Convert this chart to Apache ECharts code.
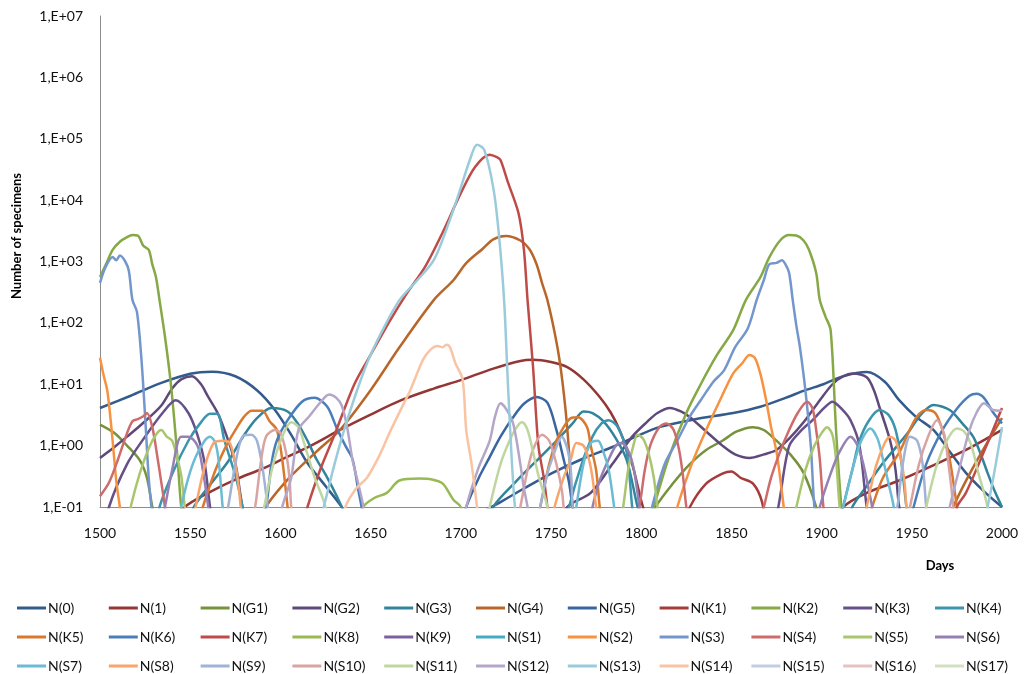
<!DOCTYPE html>
<html><head><meta charset="utf-8">
<script src="https://cdn.jsdelivr.net/npm/echarts@6/dist/echarts.min.js"></script>
<style>html,body{margin:0;padding:0;background:#fff}#c{width:1029px;height:674px}</style>
</head><body><div id="c"></div>
<script>
// ---- data: [day, number of specimens] ----
const dayTicks = [1500, 1550, 1600, 1650, 1700, 1750, 1800, 1850, 1900, 1950, 2000];
const seriesNames = ['N(0)','N(1)','N(G1)','N(G2)','N(G3)','N(G4)','N(G5)','N(K1)','N(K2)','N(K3)','N(K4)',
  'N(K5)','N(K6)','N(K7)','N(K8)','N(K9)','N(S1)','N(S2)','N(S3)','N(S4)','N(S5)','N(S6)',
  'N(S7)','N(S8)','N(S9)','N(S10)','N(S11)','N(S12)','N(S13)','N(S14)','N(S15)','N(S16)','N(S17)'];

const N0 = [[1500,4.1],[1517,6.5],[1534,10.5],[1550,14.8],[1562,16],[1575,13.5],[1587,8],[1597,3.8],[1606,1.5],[1615,0.52],[1625,0.22],[1634,0.1],[1645,0.03],[1700,0.03],[1712,0.08],[1722,0.12],[1735,0.2],[1750,0.35],[1767,0.6],[1784,0.95],[1797,1.4],[1810,2.0],[1830,2.7],[1851,3.4],[1866,4.3],[1880,6],[1891,8],[1901,10],[1912,13.5],[1925,15.8],[1935,11],[1943,5.5],[1952,3],[1962,1.8],[1971,0.8],[1980,0.36],[1990,0.18],[2000,0.1]];
const N1 = [[1530,0.03],[1547,0.1],[1560,0.17],[1575,0.28],[1590,0.42],[1600,0.58],[1617,1.0],[1633,1.8],[1650,3.2],[1667,5.5],[1685,8.5],[1700,11.7],[1718,18],[1733,24],[1740,25],[1750,23],[1759,19],[1768,12],[1777,6.2],[1783,3.5],[1788,1.8],[1795,0.5],[1801,0.1],[1808,0.03],[1900,0.03],[1912,0.1],[1925,0.17],[1943,0.27],[1960,0.45],[1980,0.85],[2000,1.8]];
const G1 = [[1500,2.2],[1508,1.6],[1515,1.0],[1522,0.58],[1526,0.3],[1529,0.1],[1533,0.03],[1800,0.03],[1808,0.1],[1818,0.25],[1827,0.5],[1836,0.85],[1845,1.2],[1853,1.7],[1862,2.0],[1868,1.8],[1875,1.2],[1883,0.7],[1890,0.36],[1897,0.1],[1901,0.03]];
const G2 = [[1500,0.63],[1508,0.95],[1515,1.4],[1525,2.5],[1534,4.5],[1540,8.5],[1545,12],[1551,13.5],[1556,10],[1560,6.2],[1565,3.5],[1569,1.8],[1575,0.52],[1579,0.1],[1584,0.03],[1750,0.03],[1759,0.1],[1772,0.17],[1784,0.5],[1795,1.4],[1803,2.4],[1809,3.4],[1816,4.1],[1822,3.6],[1827,2.9],[1836,1.7],[1845,1.0],[1852,0.72],[1860,0.63],[1868,0.72],[1875,0.85],[1882,1.3],[1890,2.4],[1898,5],[1906,10],[1912,13.5],[1917,15],[1925,13],[1929,8],[1932,4.3],[1938,1.2],[1941,0.4],[1943,0.1],[1947,0.03]];
const G3 = [[1545,0.03],[1552,0.1],[1562,0.25],[1571,0.55],[1580,1.5],[1587,2.8],[1595,4.1],[1604,3.6],[1610,2.2],[1615,1.2],[1620,0.6],[1626,0.3],[1634,0.1],[1640,0.03],[1712,0.03],[1718,0.1],[1730,0.25],[1744,0.65],[1753,1.2],[1762,2.3],[1768,3.6],[1773,3.4],[1779,2.5],[1786,1.3],[1792,0.58],[1798,0.1],[1803,0.03],[1910,0.03],[1917,0.1],[1925,0.22],[1934,0.52],[1942,1.0],[1949,1.8],[1955,3.2],[1962,4.6],[1971,3.8],[1978,2.3],[1984,1.4],[1988,0.75],[1992,0.36],[1996,0.18],[2000,0.1]];
const G4 = [[1585,0.03],[1592,0.1],[1605,0.3],[1620,0.8],[1633,1.8],[1650,8],[1666,40],[1685,235],[1696,500],[1703,940],[1712,1600],[1718,2300],[1725,2600],[1733,2200],[1738,1600],[1742,900],[1745,450],[1748,235],[1752,70],[1755,22],[1758,4],[1760,0.8],[1762,0.1],[1766,0.02],[1965,0.02],[1973,0.1],[1985,0.5],[2000,2.8]];
const G5 = [[1698,0.03],[1703,0.1],[1710,0.3],[1716,0.65],[1722,1.4],[1729,2.9],[1735,4.8],[1742,6.2],[1748,5],[1753,1.8],[1757,0.6],[1760,0.25],[1762,0.1],[1766,0.03]];
const K1 = [[1820,0.03],[1827,0.1],[1836,0.24],[1845,0.35],[1850,0.38],[1855,0.3],[1862,0.24],[1867,0.12],[1870,0.03]];
const K2 = [[1500,560],[1504,1000],[1507,1550],[1511,2100],[1515,2500],[1518,2700],[1521,2650],[1524,1800],[1527,1550],[1529,900],[1531,560],[1533,235],[1536,60],[1539,12],[1541,3],[1543,0.6],[1545,0.1],[1548,0.02],[1800,0.02],[1807,0.1],[1815,0.6],[1825,3.4],[1833,10],[1842,30],[1851,76],[1858,235],[1866,550],[1871,1170],[1877,2200],[1882,2700],[1886,2650],[1890,2200],[1893,1550],[1897,650],[1899,235],[1902,130],[1905,76],[1908,1.8],[1911,0.1],[1914,0.02]];
const K3 = [[1500,0.02],[1505,0.1],[1515,0.5],[1525,1.4],[1535,3.5],[1542,5.5],[1549,3.4],[1554,1.5],[1558,0.52],[1561,0.1],[1565,0.02],[1870,0.02],[1876,0.1],[1882,0.98],[1889,1.8],[1895,2.6],[1901,4],[1906,5.2],[1911,4],[1916,2.6],[1921,1.0],[1925,0.1],[1929,0.02]];
const K4 = [[1528,0.02],[1533,0.1],[1541,0.4],[1549,1.2],[1555,2.2],[1561,3.3],[1565,3.3],[1569,1.2],[1575,0.33],[1579,0.1],[1583,0.02],[1755,0.02],[1760,0.1],[1767,0.5],[1773,1.4],[1778,2.3],[1782,2.6],[1787,2.0],[1792,0.77],[1795,0.1],[1798,0.02],[1908,0.02],[1912,0.1],[1917,0.4],[1921,1.2],[1926,2.5],[1932,3.8],[1937,3.2],[1941,1.8],[1944,0.6],[1947,0.1],[1950,0.02]];
const K5 = [[1550,0.02],[1557,0.1],[1564,0.4],[1570,1.0],[1576,2],[1580,3],[1584,3.7],[1590,3.7],[1594,2.5],[1598,1.8],[1601,0.6],[1604,0.1],[1607,0.02],[1738,0.02],[1744,0.1],[1749,0.5],[1753,1.2],[1757,2],[1761,2.8],[1765,2.9],[1770,2.0],[1772,1.0],[1775,0.4],[1777,0.1],[1780,0.02],[1920,0.02],[1928,0.1],[1934,0.3],[1943,0.77],[1948,1.6],[1953,3.0],[1958,3.8],[1963,3.4],[1967,1.8],[1971,0.6],[1975,0.1],[1978,0.02]];
const K6 = [[1585,0.02],[1592,0.1],[1595,0.5],[1598,1.2],[1604,2.6],[1612,5.2],[1619,6],[1626,4.3],[1631,2],[1636,1.0],[1640,0.6],[1643,0.2],[1645,0.1],[1648,0.02],[1945,0.02],[1951,0.1],[1958,0.5],[1967,1.8],[1975,4],[1982,6.5],[1986,7],[1990,6],[1995,3.5],[2000,2.3]];
const K7 = [[1608,0.02],[1615,0.1],[1622,0.4],[1630,1.5],[1641,10],[1650,30],[1660,100],[1670,300],[1680,800],[1690,3000],[1700,13000],[1708,35000],[1716,55000],[1720,50000],[1722,45000],[1726,20000],[1732,6100],[1735,1550],[1737,235],[1740,20],[1743,1],[1746,0.3],[1748,0.1],[1751,0.02],[1970,0.02],[1975,0.1],[1980,0.17],[1990,0.8],[2000,4.1]];
const K8 = [[1640,0.02],[1646,0.1],[1652,0.14],[1659,0.17],[1666,0.27],[1677,0.29],[1684,0.28],[1690,0.24],[1696,0.13],[1700,0.1],[1704,0.02]];
const K9 = [];
const S1 = [];
const S2 = [[1500,27],[1502,14],[1504,8],[1505.5,3.4],[1507,1.2],[1509,0.27],[1511,0.1],[1514,0.02],[1814,0.02],[1820,0.1],[1828,0.5],[1836,1.8],[1843,5],[1851,15],[1856,22],[1860,30],[1863,27],[1866,15],[1869,6],[1872,2],[1875,0.8],[1877,0.3],[1879,0.1],[1882,0.02]];
const S3 = [[1500,450],[1503,800],[1507,1180],[1509,1050],[1511,1250],[1514,1000],[1516,700],[1518,235],[1520.5,150],[1523,25],[1525,3],[1527,0.3],[1528.5,0.1],[1531,0.02],[1800,0.02],[1806,0.1],[1813,0.5],[1820,1.2],[1827,3],[1833,5.5],[1840,11],[1846,17],[1852,40],[1859,80],[1864,235],[1868,500],[1871,900],[1875,950],[1878,1050],[1880,900],[1882,650],[1884,235],[1886,90],[1888,40],[1891,8],[1894,1],[1896,0.1],[1899,0.02]];
const S4 = [[1500,0.15],[1505,0.25],[1510,0.6],[1515,1.6],[1518,2.5],[1521,2.7],[1524,3],[1526,3.4],[1529,2],[1532,0.6],[1534,0.25],[1536,0.1],[1539,0.02],[1794,0.02],[1799,0.1],[1802,0.4],[1805,1],[1810,2],[1814,2.3],[1818,1.8],[1821,0.85],[1823,0.35],[1825,0.1],[1828,0.02],[1862,0.02],[1868,0.1],[1872,0.3],[1877,0.8],[1882,1.8],[1887,3.5],[1892,5.2],[1895,4],[1897,1.8],[1899,0.6],[1901,0.1],[1904,0.02]];
const S5 = [[1512,0.02],[1517,0.1],[1522,0.35],[1527,0.9],[1531,1.5],[1534,1.8],[1537,1.4],[1540,1.2],[1543,0.6],[1545,0.33],[1547,0.1],[1550,0.02],[1786,0.02],[1790,0.1],[1793,0.45],[1796,1.1],[1798,1.5],[1801,1.3],[1804,0.77],[1807,0.3],[1809,0.1],[1812,0.02],[1880,0.02],[1886,0.1],[1891,0.4],[1896,1],[1900,1.6],[1903,2.0],[1906,1.5],[1908,0.6],[1910,0.1],[1913,0.02]];
const S6 = [[1531,0.02],[1536,0.1],[1540,0.4],[1545,1.4],[1549,1.4],[1554,1],[1557,0.4],[1560,0.1],[1563,0.02],[1768,0.02],[1773,0.1],[1777,0.27],[1782,0.6],[1786,1.0],[1789,1.1],[1793,0.8],[1796,0.4],[1799,0.1],[1802,0.02],[1894,0.02],[1899,0.1],[1905,0.35],[1910,0.8],[1916,1.4],[1920,1.0],[1923,0.52],[1926,0.2],[1928,0.1],[1931,0.02]];
const S7 = [[1540,0.02],[1545,0.1],[1549,0.3],[1553,0.65],[1558,1.2],[1561,1.4],[1564,1.1],[1566,0.5],[1568,0.1],[1571,0.02],[1760,0.02],[1764,0.1],[1768,0.5],[1772,1.1],[1776,1.2],[1779,0.8],[1782,0.4],[1785,0.1],[1788,0.02],[1906,0.02],[1912,0.1],[1917,0.4],[1922,1.2],[1927,1.9],[1931,1.3],[1934,0.6],[1937,0.25],[1940,0.1],[1943,0.02]];
const S8 = [[1548,0.02],[1553,0.1],[1558,0.45],[1563,1.1],[1568,1.2],[1572,1.1],[1575,0.5],[1577,0.2],[1578,0.1],[1581,0.02],[1747,0.02],[1752,0.1],[1757,0.3],[1761,0.6],[1764,1.1],[1768,1.0],[1771,0.6],[1773,0.3],[1775,0.1],[1778,0.02],[1920,0.02],[1925,0.1],[1930,0.45],[1935,1.1],[1938,1.4],[1941,1.2],[1944,0.6],[1946,0.25],[1947,0.1],[1950,0.02]];
const S9 = [[1566,0.02],[1571,0.1],[1575,0.5],[1579,1.4],[1584,1.5],[1587,1.2],[1590,0.45],[1593,0.1],[1596,0.02],[1740,0.02],[1744,0.1],[1748,0.35],[1751,0.65],[1756,1.4],[1759,0.9],[1761,0.4],[1762,0.1],[1765,0.02],[1937,0.02],[1942,0.1],[1945,0.5],[1949,1.4],[1953,1.2],[1956,0.5],[1958,0.1],[1961,0.02]];
const S10 = [[1581,0.02],[1586,0.1],[1589,0.5],[1592,1.4],[1597,1.8],[1600,1.6],[1603,0.8],[1605,0.3],[1606,0.1],[1609,0.02],[1728,0.02],[1733,0.1],[1737,0.4],[1740,0.85],[1745,1.5],[1749,1.2],[1753,0.5],[1756,0.19],[1757,0.1],[1760,0.02],[1944,0.02],[1949,0.1],[1954,0.5],[1959,1.4],[1964,2.6],[1968,1.5],[1970,0.6],[1972,0.2],[1973,0.1],[1976,0.02]];
const S11 = [[1586,0.02],[1591,0.1],[1596,0.5],[1601,1.4],[1606,2.4],[1610,2.0],[1614,0.9],[1619,0.3],[1625,0.1],[1628,0.02],[1711,0.02],[1716,0.1],[1722,0.5],[1727,1.2],[1731,2.0],[1734,2.4],[1737,1.8],[1740,0.8],[1743,0.33],[1748,0.1],[1751,0.02],[1953,0.02],[1958,0.1],[1964,0.5],[1970,1.3],[1975,1.9],[1979,1.7],[1983,1.0],[1987,0.35],[1992,0.1],[1995,0.02]];
const S12 = [[1596,0.02],[1601,0.1],[1606,0.3],[1610,1.8],[1616,3],[1622,5],[1627,6.8],[1631,6],[1634,4.5],[1637,2],[1640,0.58],[1643,0.25],[1646,0.1],[1649,0.02],[1698,0.02],[1703,0.1],[1710,0.45],[1716,1.2],[1719,3],[1722,4.9],[1725,4],[1729,2.3],[1733,0.5],[1735,0.2],[1737,0.1],[1740,0.02],[1966,0.02],[1971,0.1],[1977,0.5],[1982,1.8],[1986,3.5],[1990,4.9],[1995,3.8],[2000,3.7]];
const S13 = [[1617,0.02],[1624,0.1],[1630,0.5],[1637,2.6],[1648,22],[1657,80],[1666,235],[1676,500],[1685,1050],[1693,4000],[1700,16000],[1705,45000],[1709,80000],[1713,66000],[1718,16000],[1721,3000],[1724,235],[1726,12],[1728,0.8],[1730,0.1],[1733,0.02],[1985,0.02],[1992,0.1],[2000,2]];
const S14 = [[1630,0.02],[1636,0.1],[1642,0.2],[1648,0.3],[1655,0.7],[1660,1.5],[1666,3.5],[1672,8],[1679,25],[1683,36],[1687,42],[1690,40],[1692,44],[1694,40],[1697,22],[1701,12],[1703,1.8],[1706,0.5],[1709,0.1],[1712,0.02]];
const S15 = [];
const S16 = [];
const S17 = [];

const seriesData = [N0,N1,G1,G2,G3,G4,G5,K1,K2,K3,K4,K5,K6,K7,K8,K9,S1,S2,S3,S4,S5,S6,S7,S8,S9,S10,S11,S12,S13,S14,S15,S16,S17];
const colors = ['#335B8C','#943634','#76923C','#5F497A','#31849B','#B8662A','#3A66A0','#A53C3A','#86A845','#66508A','#3B95AD',
  '#D9782E','#4A7EBB','#BE4B48','#98B954','#7D60A0','#46AAC5','#F69240','#7396CC','#CD6C6A','#A9C66F','#9580B4',
  '#6BBBD3','#F9A46A','#A0B2D6','#D9A3A2','#C0D6A0','#B4A6C8','#9ACBDB','#F9C4A3','#C2CCE2','#E4C2C1','#D3E1C3'];

const chart = echarts.init(document.getElementById('c'), null, {renderer: 'canvas'});
const font = 'Lato, "Liberation Sans", sans-serif';
function expLabel(v) {
  const e = Math.round(Math.log10(v));
  return '1,E' + (e < 0 ? '-' : '+') + String(Math.abs(e)).padStart(2, '0');
}
// one legend block per entry so that the entries sit in a fixed 11-column grid
const legends = seriesNames.map((n, i) => ({
  data: [n],
  left: 17 + (i % 11) * 91.8, top: 601 + Math.floor(i / 11) * 29,
  icon: 'rect', itemWidth: 29, itemHeight: 3, padding: 0,
  textStyle: {fontFamily: font, fontSize: 14, color: '#111', padding: [0, 0, 0, -3]},
  selectedMode: false
}));
chart.setOption({
  animation: false,
  color: colors,
  grid: {left: 100, right: 27, top: 16, bottom: 167, containLabel: false},
  legend: legends,
  xAxis: {
    type: 'value', min: dayTicks[0], max: dayTicks[dayTicks.length - 1], interval: 50,
    axisLine: {lineStyle: {color: '#8c8c8c', width: 1}}, axisTick: {show: false}, splitLine: {show: false},
    axisLabel: {margin: 19, fontFamily: font, fontSize: 14, color: '#111', formatter: v => String(v),
      showMinLabel: true, showMaxLabel: true}
  },
  yAxis: {
    type: 'log', logBase: 10, min: 0.1, max: 1e7, splitNumber: 8,
    axisLine: {show: true, lineStyle: {color: '#8c8c8c', width: 1}}, axisTick: {show: false}, splitLine: {show: false},
    axisLabel: {margin: 17, fontFamily: font, fontSize: 14, color: '#111', formatter: expLabel}
  },
  graphic: [
    {type: 'text', x: 17, y: 236, rotation: Math.PI / 2,
      style: {text: 'Number of specimens', font: 'bold 13px ' + font, fill: '#000', align: 'center', verticalAlign: 'middle'}},
    {type: 'text', x: 940, y: 566,
      style: {text: 'Days', font: 'bold 13px ' + font, fill: '#000', align: 'center', verticalAlign: 'middle'}}
  ],
  series: seriesNames.map((n, i) => ({
    name: n, type: 'line', data: seriesData[i], symbol: 'none', showSymbol: false,
    smooth: 0.3, clip: true, lineStyle: {width: 2.5, color: colors[i]}, itemStyle: {color: colors[i]}
  }))
});
</script></body></html>
